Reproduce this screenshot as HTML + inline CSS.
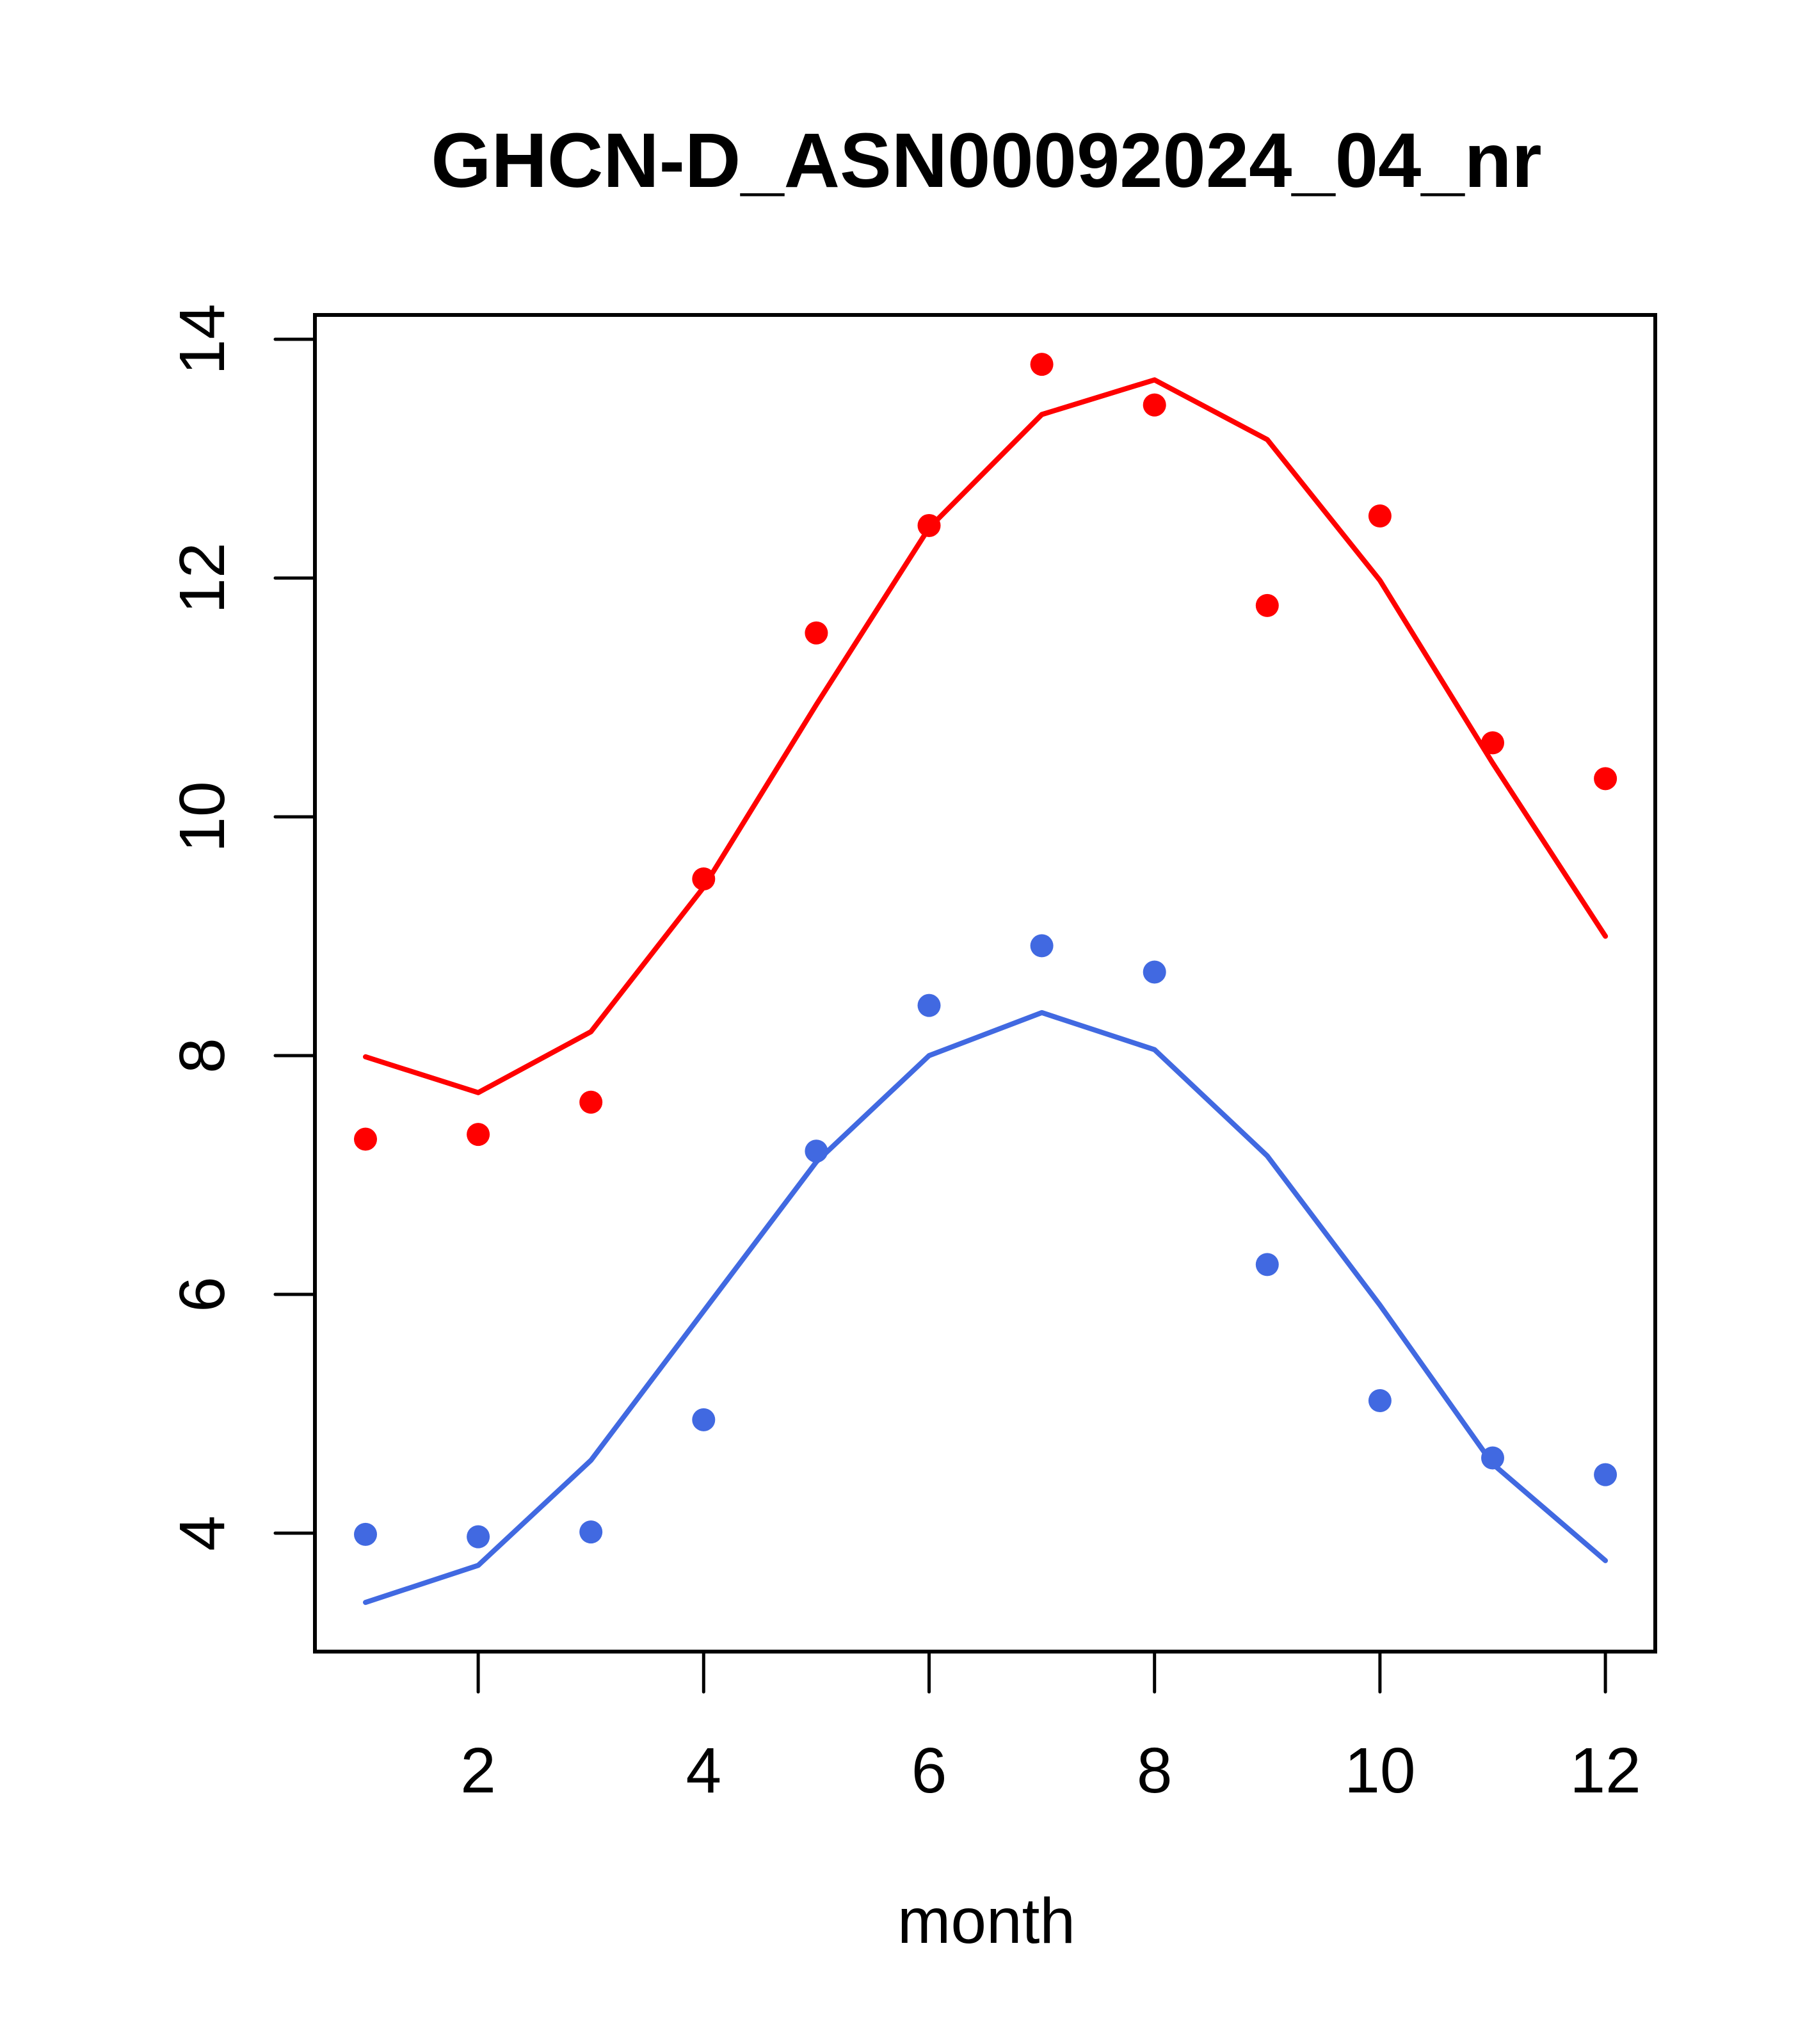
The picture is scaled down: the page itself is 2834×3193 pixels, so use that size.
<!DOCTYPE html>
<html><head><meta charset="utf-8"><style>html,body{margin:0;padding:0;background:#fff}</style></head>
<body>
<svg id="chart" width="2834" height="3188" xmlns="http://www.w3.org/2000/svg" font-family="Liberation Sans, sans-serif">
<rect width="2834" height="3188" fill="#fff"/>
<text x="1541" y="292" font-size="121" font-weight="bold" text-anchor="middle">GHCN-D_ASN00092024_04_nr</text>
<rect x="492" y="492" width="2094" height="2088" fill="none" stroke="#000" stroke-width="6"/>
<g id="xaxis"></g>
<g id="yaxis"></g>
<text x="1541" y="3035" font-size="100" text-anchor="middle">month</text>
<g id="series"></g>
</svg>
<script>
const months = [1,2,3,4,5,6,7,8,9,10,11,12];
const xTicks = [2,4,6,8,10,12];
const yTicks = [4,6,8,10,12,14];
const redPoints = [7.30,7.34,7.61,9.48,11.54,12.44,13.79,13.45,11.77,12.52,10.62,10.32];
const redLine = [7.99,7.69,8.20,9.41,10.94,12.42,13.37,13.66,13.16,11.98,10.45,9.00];
const bluePoints = [3.99,3.97,4.01,4.95,7.20,8.42,8.92,8.70,6.25,5.11,4.63,4.49];
const blueLine = [3.42,3.73,4.61,5.86,7.11,8.00,8.36,8.05,7.16,5.91,4.58,3.77];

const NS = 'http://www.w3.org/2000/svg';
function xs(v){ return 571 + (v-1)*176.1; }
function ys(v){ return 530 + (14-v)*186.5; }
function mk(tag, attrs, parent){
  const e = document.createElementNS(NS, tag);
  for (const k in attrs) e.setAttribute(k, attrs[k]);
  parent.appendChild(e);
  return e;
}
const xa = document.getElementById('xaxis');
const ya = document.getElementById('yaxis');
const sg = document.getElementById('series');
xTicks.forEach(t => {
  const l = mk('line', {x1:xs(t), x2:xs(t), y1:2580, y2:2643, stroke:'#000', 'stroke-width':5, 'stroke-linecap':'round'}, xa);
  
  
  const tx = mk('text', {x:xs(t), y:2800, 'font-size':100, 'text-anchor':'middle'}, xa);
  tx.textContent = t;
  
  
});
yTicks.forEach(t => {
  const l = mk('line', {x1:430, x2:492, y1:ys(t), y2:ys(t), stroke:'#000', 'stroke-width':5, 'stroke-linecap':'round'}, ya);
  
  
  const tx = mk('text', {x:0, y:0, 'font-size':100, 'text-anchor':'middle', transform:'translate(350,'+ys(t)+') rotate(-90)'}, ya);
  tx.textContent = t;
  
  
});
function drawLine(vals, color, name){
  const p = mk('polyline', {points: vals.map((v,i)=>xs(months[i])+','+ys(v)).join(' '), fill:'none', stroke:color, 'stroke-width':8, 'stroke-linejoin':'round', 'stroke-linecap':'round'}, sg);
  
  
}
function drawPts(vals, color, name){
  vals.forEach((v,i) => {
    const c = mk('circle', {cx:xs(months[i]), cy:ys(v), r:18, fill:color}, sg);
    
    
  });
}
drawLine(redLine, '#FF0000', 'red-fit-line');
drawLine(blueLine, '#4169E1', 'blue-fit-line');
drawPts(redPoints, '#FF0000', 'red-point');
drawPts(bluePoints, '#4169E1', 'blue-point');
</script>
</body></html>
